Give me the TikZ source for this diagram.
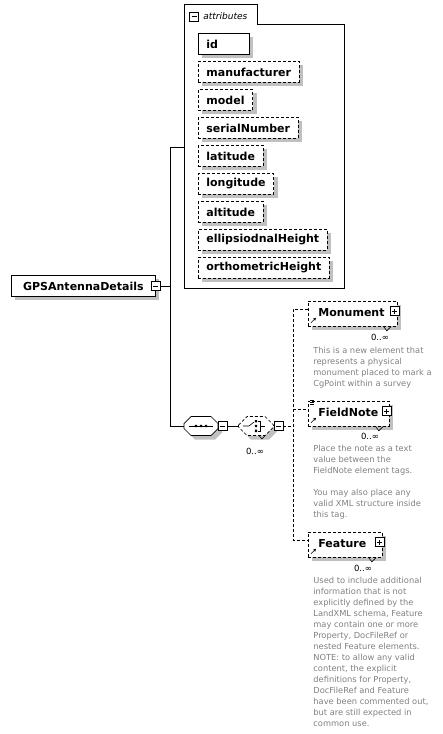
\documentclass[tikz,border=0pt]{standalone}
\usepackage{fontspec}
\setmainfont{DejaVu Sans}
\usepackage{tikz}
\usetikzlibrary{shadows}
\usetikzlibrary{positioning}
\usetikzlibrary{arrows.meta}
\definecolor{shadowgray}{RGB}{192,192,192}
\definecolor{docgray}{RGB}{128,128,128}

\begin{document}
\begin{tikzpicture}[x=1pt,y=-1pt,line width=0.8pt,
  boxshadow/.style={drop shadow={shadow xshift=4pt,shadow yshift=-4pt,fill=shadowgray,opacity=1}},
  optline/.style={dash pattern=on 3pt off 2pt},
  attr/.style={draw,fill=white,boxshadow,anchor=north west,inner xsep=8pt,inner ysep=0pt,minimum height=21pt,font=\fontsize{11}{13}\selectfont\bfseries},
  optattr/.style={attr,optline},
  elem/.style={draw,optline,fill=white,boxshadow,anchor=north west,inner xsep=10pt,inner ysep=4pt,text height=11pt,text depth=6pt,font=\fontsize{11}{13}\selectfont\bfseries},
  modelbox/.style={minimum width=34pt,minimum height=19pt,inner sep=0pt},
  minusbox/.style={draw,fill=white,line width=0.7pt,minimum size=9pt,inner sep=0pt,
    path picture={\draw ([xshift=2pt]path picture bounding box.west) -- ([xshift=-2pt]path picture bounding box.east);}},
  plusbox/.style={draw,fill=white,line width=0.7pt,minimum size=9pt,inner sep=0pt,
    path picture={\draw ([xshift=2pt]path picture bounding box.west) -- ([xshift=-2pt]path picture bounding box.east)
      ([yshift=2pt]path picture bounding box.south) -- ([yshift=-2pt]path picture bounding box.north);}},
  mult/.style={inner sep=0pt,font=\fontsize{8.5}{10}\selectfont},
  doc/.style={inner sep=0pt,anchor=north west,align=left,text=docgray,font=\fontsize{8.3}{11}\selectfont}]
  \useasboundingbox (0,0) rectangle (443,734);

  \node[attr,minimum width=144pt] (gps) at (11,275) {GPSAntennaDetails};
  \node[minusbox] (gpsx) at (gps.east) {};

  % attribute group
  \node[anchor=north west,minimum width=160pt,minimum height=264pt,inner sep=0pt] (attrs) at (184,24) {};
  \node[anchor=south west,minimum width=73pt,minimum height=19pt,inner sep=0pt] (tab) at (attrs.north west) {};
  \draw (attrs.south west) |- (tab.north east) |- (attrs.north east) -- (attrs.south east) -- cycle;
  \node[minusbox] (tabx) at (194,16.5) {};
  \node[anchor=west,inner sep=0pt,font=\fontsize{9}{11}\selectfont\itshape] (tablbl) at (203,16) {attributes};

  \node[attr,text width=35pt] (id) at (198,33) {id};
  \node[optattr,below=6.2pt of id.south west,anchor=north west] (man) {manufacturer};
  \node[optattr,below=6.2pt of man.south west,anchor=north west] (model) {model};
  \node[optattr,below=6.2pt of model.south west,anchor=north west] (serial) {serialNumber};
  \node[optattr,below=6.2pt of serial.south west,anchor=north west] (lat) {latitude};
  \node[optattr,below=6.2pt of lat.south west,anchor=north west] (lon) {longitude};
  \node[optattr,below=6.2pt of lon.south west,anchor=north west] (alt) {altitude};
  \node[optattr,below=6.2pt of alt.south west,anchor=north west] (ellh) {ellipsiodnalHeight};
  \node[optattr,below=6.2pt of ellh.south west,anchor=north west] (orth) {orthometricHeight};

  % sequence and choice
  \coordinate (top) at (170,147);
  \coordinate (bot) at (170,426);
  \node[modelbox] (seq) at (201,426) {};
  \node[modelbox,minimum width=35pt] (cho) at (256,426) {};
  \begin{scope}[shift={(seq.center)},line width=0.7pt]
    \draw[fill=white,boxshadow] (-17,-2.5) -- (-10,-9.5) -- (10,-9.5) -- (17,-2.5) -- (17,2.5) -- (10,9.5) -- (-10,9.5) -- (-17,2.5) -- cycle;
    \draw[line width=0.6pt] (-12,0) -- (12,0);
    \fill (-6.2,-1.2) rectangle (-3.8,1.2) (-1.2,-1.2) rectangle (1.2,1.2) (3.8,-1.2) rectangle (6.2,1.2);
  \end{scope}
  \begin{scope}[shift={(cho.center)},line width=0.7pt]
    \draw[fill=white,boxshadow,optline] (-17.5,-1) -- (-9,-9.5) -- (9,-9.5) -- (17.5,-1) -- (17.5,1) -- (9,9.5) -- (-9,9.5) -- (-17.5,1) -- cycle;
    \draw[line width=0.6pt] (-13,0) -- (-7,0) -- (-2,-4);
    \fill (-1.2,-6) rectangle (1.2,-3.6) (-1.2,-1.2) rectangle (1.2,1.2) (-1.2,3.6) rectangle (1.2,6);
    \draw[line width=0.6pt] (1.5,-4.8) -- (4.5,-4.8) -- (4.5,4.8) -- (1.5,4.8) (4.5,0) -- (9,0);
    \draw[line width=0.6pt] (3,9.5) -- (6,13) -- (9,9.5);
  \end{scope}
  \node[minusbox] (seqx) at (222.5,426) {};
  \node[minusbox] (chox) at (278.5,426) {};
  \node[mult] (chom) at (255,451) {0..∞};
  \coordinate (bus) at (293,426);

  % elements
  \node[elem,text width=69pt] (mon) at (308,301) {Monument};
  \node[plusbox] (monx) at ([xshift=-3pt,yshift=-10pt]mon.north east) {};
  \node[mult] (monm) at (380,337) {0..∞};
  \node[doc] (mondoc) at (313,347) {This is a new element that\\represents a physical\\monument placed to mark a\\CgPoint within a survey};

  \node[elem,text width=61pt] (fn) at (308,401) {FieldNote};
  \node[plusbox] (fnx) at ([xshift=-3pt,yshift=-10pt]fn.north east) {};
  \node[mult] (fnm) at (370,436) {0..∞};
  \node[doc] (fndoc) at (313,445) {Place the note as a text\\value between the\\FieldNote element tags.\\[11pt]You may also place any\\valid XML structure inside\\this tag.};

  \node[elem,text width=54pt] (feat) at (308,532) {Feature};
  \node[plusbox] (featx) at ([xshift=-3pt,yshift=-10pt]feat.north east) {};
  \node[mult] (featm) at (363,568) {0..∞};
  \node[doc] (featdoc) at (313,577) {Used to include additional\\information that is not\\explicitly defined by the\\LandXML schema, Feature\\may contain one or more\\Property, DocFileRef or\\nested Feature elements.\\NOTE: to allow any valid\\content, the explicit\\definitions for Property,\\DocFileRef and Feature\\have been commented out,\\but are still expected in\\common use.};

  \draw[line width=0.6pt,-{Stealth[length=3pt,width=3pt]}] ([xshift=3pt,yshift=4pt]mon.south west) -- ++(5,-5);
  \draw[line width=0.6pt,-{Stealth[length=3pt,width=3pt]}] ([xshift=3pt,yshift=4pt]fn.south west) -- ++(5,-5);
  \draw[line width=0.6pt,-{Stealth[length=3pt,width=3pt]}] ([xshift=3pt,yshift=4pt]feat.south west) -- ++(5,-5);
  \draw[line width=0.6pt] ([xshift=-14pt]mon.south east) -- ++(3,4) -- ++(4,-4);
  \draw[line width=0.6pt] ([xshift=-14pt]fn.south east) -- ++(3,4) -- ++(4,-4);
  \draw[line width=0.6pt] ([xshift=-14pt]feat.south east) -- ++(3,4) -- ++(4,-4);
  \draw[line width=0.5pt] ([xshift=2pt,yshift=1pt]fn.north west) -- ++(4,0) ++(-4,2) -- ++(4,0) ++(-4,2) -- ++(4,0);

  % connectors
  \coordinate (monin) at ([yshift=-8pt]mon.north west);
  \coordinate (fnin) at ([yshift=-8pt]fn.north west);
  \coordinate (featin) at ([yshift=-8pt]feat.north west);
  \draw (gpsx.east) -- (gpsx.east -| top);
  \draw (top -| attrs.west) -- (top) -- (bot) -- (seq.west);
  \draw (seqx.east) -- (cho.west);
  \draw[optline] (chox.east) -- (bus);
  \draw[optline] (monin) -- (monin -| bus) -- (featin -| bus) -- (featin);
  \draw[optline] (fnin -| bus) -- (fnin);
\end{tikzpicture}
\end{document}
